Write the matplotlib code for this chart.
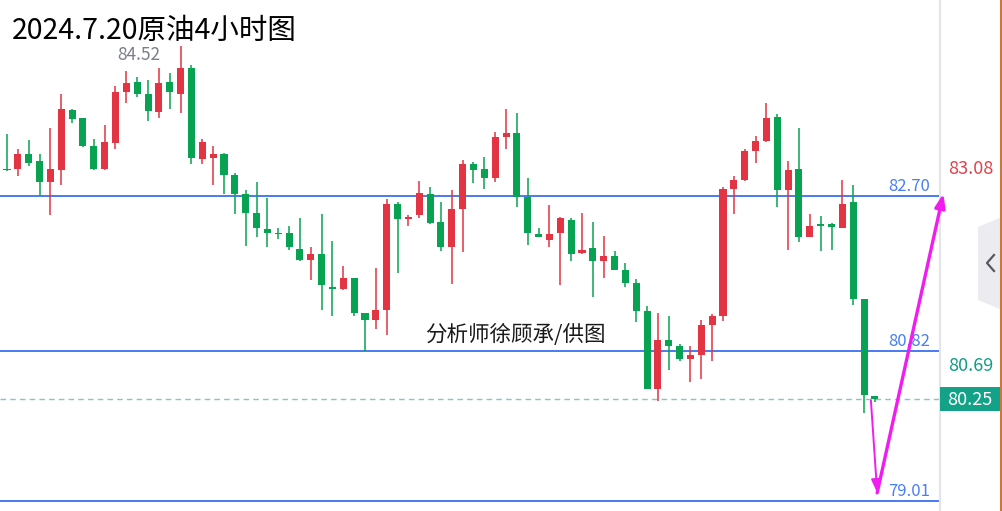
import matplotlib
matplotlib.use('Agg')
import matplotlib.pyplot as plt
from matplotlib.patches import Polygon, Rectangle
import numpy as np

plt.rcParams['font.family'] = ['Noto Sans CJK SC', 'DejaVu Sans']

title = "2024.7.20原油4小时图"
watermark = "分析师徐顾承/供图"

opens = [83.02, 83.03, 83.21, 83.12, 82.87, 83.01, 83.74, 83.64, 83.31, 83.03,
         83.34, 83.96, 84.08, 83.93, 83.72, 84.08, 83.94, 84.25, 83.15, 83.16,
         83.21, 82.96, 82.72, 82.49, 82.30, 82.25, 82.25, 82.06, 81.93, 82.00,
         81.59, 81.58, 81.71, 81.28, 81.20, 81.32, 82.61, 82.42, 82.47, 82.73,
         82.39, 82.09, 82.54, 83.09, 83.03, 82.92, 83.42, 83.46, 82.69, 82.24,
         82.17, 82.25, 82.41, 82.01, 82.07, 81.91, 81.98, 81.81, 81.65, 81.31,
         80.37, 80.96, 80.89, 80.73, 80.78, 81.14, 81.25, 82.79, 82.90, 83.24,
         83.37, 83.66, 82.77, 83.03, 82.20, 82.35, 82.36, 82.32, 82.63, 81.46,
         80.28]
highs = [83.45, 83.27, 83.38, 83.21, 83.53, 83.94, 83.75, 83.65, 83.39, 83.56,
         84.03, 84.21, 84.14, 84.10, 84.25, 84.19, 84.52, 84.29, 83.39, 83.31,
         83.22, 82.98, 82.77, 82.87, 82.68, 82.32, 82.34, 82.43, 82.09, 82.48,
         82.16, 81.85, 81.71, 81.28, 81.83, 82.67, 82.63, 82.47, 82.88, 82.81,
         82.63, 82.77, 83.14, 83.11, 83.17, 83.48, 83.75, 83.70, 82.92, 82.32,
         82.59, 82.45, 82.44, 82.50, 82.39, 82.22, 82.03, 81.89, 81.70, 81.37,
         81.29, 81.25, 80.91, 80.89, 81.20, 81.27, 82.81, 82.94, 83.27, 83.43,
         83.83, 83.69, 83.13, 83.52, 82.48, 82.46, 82.38, 82.89, 82.84, 81.46,
         80.28]
lows = [83.00, 82.94, 83.06, 82.71, 82.47, 82.83, 83.58, 83.30, 83.02, 83.02,
        83.27, 83.83, 83.90, 83.61, 83.65, 83.75, 83.70, 83.09, 83.09, 82.83,
        82.72, 82.48, 82.10, 82.20, 82.09, 82.18, 82.05, 81.91, 81.69, 81.32,
        81.25, 81.56, 81.25, 80.83, 81.09, 81.02, 81.77, 82.34, 82.43, 82.36,
        82.03, 81.64, 82.02, 82.86, 82.79, 82.87, 83.27, 82.57, 82.11, 82.20,
        82.09, 81.62, 81.91, 82.00, 81.48, 81.71, 81.81, 81.60, 81.18, 80.37,
        80.22, 80.60, 80.71, 80.45, 80.49, 80.71, 81.19, 82.48, 82.88, 83.10,
        83.36, 82.57, 82.05, 82.14, 82.20, 82.03, 82.05, 82.32, 81.38, 80.07,
        80.21]
closes = [83.01, 83.21, 83.10, 82.87, 83.03, 83.75, 83.63, 83.31, 83.03, 83.35,
          83.96, 84.07, 83.94, 83.73, 84.07, 83.96, 84.25, 83.16, 83.35, 83.21,
          82.96, 82.72, 82.49, 82.32, 82.25, 82.24, 82.09, 81.93, 82.00, 81.62,
          81.58, 81.71, 81.29, 81.20, 81.32, 82.61, 82.42, 82.45, 82.74, 82.38,
          82.09, 82.54, 83.09, 83.02, 82.92, 83.41, 83.46, 82.69, 82.25, 82.20,
          82.24, 82.44, 82.00, 82.05, 81.91, 81.98, 81.81, 81.65, 81.31, 80.37,
          80.96, 80.89, 80.73, 80.78, 81.14, 81.25, 82.79, 82.90, 83.25, 83.37,
          83.64, 82.77, 83.02, 82.20, 82.34, 82.34, 82.33, 82.61, 81.46, 80.29,
          80.25]

level_lines = [82.70, 80.82, 79.01]
level_labels = ["82.70", "80.82", "79.01"]
high_label = "84.52"
last_price = 80.25
axis_labels = [("83.08", 83.08, "#e0434c"), ("80.69", 80.69, "#109e86")]
arrow_x = [79.63, 80.21, 86.31]
arrow_p = [80.23, 79.11, 82.73]

UP = "#e23442"
DOWN = "#08a352"
BLUE = "#3a6ff5"
TEAL = "#13a287"

W, H = 1002, 511
fig = plt.figure(figsize=(W / 100, H / 100), dpi=100)
fig.patch.set_facecolor("white")
ax = fig.add_axes([0, 0, 940 / W, 1])
ax.set_xlim(-0.645, 86.0)
ax.set_ylim(78.890, 85.073)
ax.axis('off')

x = np.arange(len(opens))
o = np.array(opens); c = np.array(closes)
hi = np.array(highs); lo = np.array(lows)
colors = [UP if cc > oo else DOWN for oo, cc in zip(o, c)]
ax.vlines(x, lo, hi, colors=colors, linewidth=1.1, zorder=2)
bottom = np.minimum(o, c)
height = np.maximum(np.abs(c - o), 0.018)
ax.bar(x, height, bottom=bottom, width=0.65, color=colors, linewidth=0, zorder=3)

for lv, lab in zip(level_lines, level_labels):
    ax.axhline(lv, color=BLUE, linewidth=1.3, zorder=1)
    ax.annotate(lab, xy=(1, lv), xycoords=('axes fraction', 'data'),
                xytext=(-10, 10), textcoords='offset pixels',
                ha='right', va='center', fontsize=12, color="#4a7ef6")

ax.axhline(last_price, color="#7fcbbd", linewidth=1.0, linestyle=(0, (4, 3)), zorder=1)

# highest-high label
imax = int(np.argmax(hi))
ax.annotate(high_label, xy=(imax, hi[imax]), xytext=(-42, -9), textcoords='offset pixels',
            ha='center', va='center', fontsize=12.5, color="#7a7f8c")

# title and watermark
fig.text(12 / W, 1 - 31 / H, title, fontsize=20.5, color="black", ha='left', va='center')
fig.text(515 / W, 1 - 335 / H, watermark, fontsize=15.5, color="#1a1a1a", ha='center', va='center')

# right price axis area
ax.plot([1, 1], [0, 1], transform=ax.transAxes, color="#e3e5ea", linewidth=1.5, clip_on=False)
for lab, p, col in axis_labels:
    ax.annotate(lab, xy=(1, p), xycoords=('axes fraction', 'data'), xytext=(8, -4),
                textcoords='offset pixels', ha='left', va='center', fontsize=13, color=col,
                annotation_clip=False)
fig.patches.append(Rectangle((940 / W, 1 - 411 / H), 60 / W, 24 / H, transform=fig.transFigure,
                             facecolor=TEAL, edgecolor='none'))
fig.text(970 / W, 1 - 400 / H, f"{last_price:.2f}", fontsize=13, color="white",
         ha='center', va='center')

# side tab
tab = Polygon([(978 / W, 1 - 227 / H), (1002 / W, 1 - 217 / H), (1002 / W, 1 - 310 / H),
               (978 / W, 1 - 300 / H)], closed=True, transform=fig.transFigure,
              facecolor="#ececf0", edgecolor="none")
fig.patches.append(tab)
fig.lines.append(plt.Line2D([994 / W, 987 / W, 994 / W], [1 - 255 / H, 1 - 263 / H, 1 - 271 / H],
                            transform=fig.transFigure, color="#55585f", linewidth=1.6))
fig.lines.append(plt.Line2D([1001 / W, 1001 / W], [0, 1], transform=fig.transFigure,
                            color="#c47a3c", linewidth=1.5))

# magenta forecast arrows
MAG = "#f01cf0"
ax.annotate("", xy=(arrow_x[1], arrow_p[1]), xytext=(arrow_x[0], arrow_p[0]),
            arrowprops=dict(arrowstyle='-|>,head_length=0.8,head_width=0.3', color=MAG,
                            linewidth=1.4, shrinkA=0, shrinkB=0),
            annotation_clip=False, zorder=5)
ax.annotate("", xy=(arrow_x[2], arrow_p[2]), xytext=(arrow_x[1], arrow_p[1]),
            arrowprops=dict(arrowstyle='-|>,head_length=0.8,head_width=0.3', color=MAG,
                            linewidth=2.4, shrinkA=0, shrinkB=0),
            annotation_clip=False, zorder=5)

fig.savefig("out.png", dpi=100, facecolor="white")
